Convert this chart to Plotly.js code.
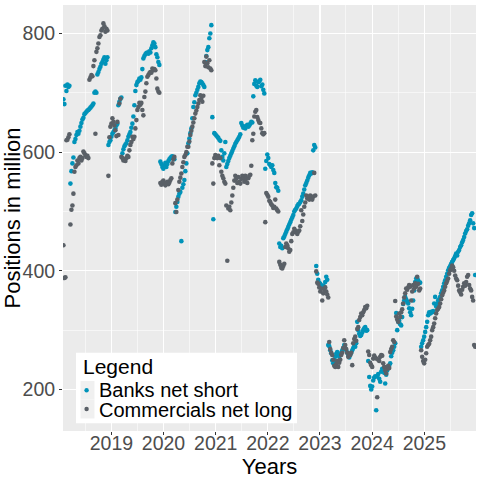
<!DOCTYPE html>
<html>
<head>
<meta charset="utf-8">
<script src="https://cdn.plot.ly/plotly-3.0.1.min.js"></script>
<style>
  html, body { margin: 0; padding: 0; background: #ffffff; }
  #chart { width: 480px; height: 480px; }
</style>
</head>
<body>
<div id="chart"></div>
<script>
// Weekly reports, first report date
const firstReport = '2018-01-30';

// Banks net short (million), one value per weekly report
const banksNetShort = [
  689, 681, 712, 703, 714, 710, 712, 547, 568, 581,
  591, 617, 622, 629, 634, 631, 636, 643, 649, 655,
  658, 664, 666, 668, 670, 671, 673, 675, 677, 679,
  682, 700, 702, 700, 731, 735, 740, 744, 749, 752,
  756, 760, 749, 755, 760, 612, 617, 620, 626, 631,
  634, 637, 640, 645, 648, 679, 685, 690, 692, 598,
  605, 610, 613, 615, 620, 626, 630, 634, 641, 648,
  660, 679, 703, 713, 718, 720, 724, 722, 726, 740,
  758, 762, 765, 767, 768, 766, 770, 768, 775, 780,
  785, 783, 777, 765, 760, 752, 747, 584, 580, 575,
  572, 578, 582, 575, 580, 585, 588, 590, 592, 593,
  590, 588, 499, 508, 516, 525, 530, 533, 450, 540,
  546, 553, 568, 581, 598, 615, 623, 632, 640, 657,
  676, 684, 696, 700, 705, 710, 716, 719, 718, 716,
  713, 710, 752, 762, 772, 777, 792, 800, 814, 659,
  487, 632, 630, 628, 626, 624, 621, 619, 603, 592,
  586, 598, 617, 575, 580, 585, 590, 594, 598, 602,
  606, 610, 614, 617, 620, 623, 626, 630, 649, 645,
  641, 643, 640, 644, 646, 643, 645, 648, 651, 650,
  694, 715, 721, 712, 710, 718, 720, 722, 711, 714,
  705, 699, 572, 585, 596, 590, 580, 578, 575, 578,
  570, 565, 548, 541, 540, 535, 446, 440, 442, 438,
  455, 458, 462, 466, 470, 474, 478, 482, 486, 490,
  494, 500, 503, 505, 509, 512, 513, 516, 519, 525,
  530, 537, 544, 548, 552, 557, 561, 565, 564, 566,
  603, 612, 608, 408, 395, 385, 380, 378, 375, 372,
  375, 373, 381, 390, 385, 275, 273, 266, 261, 249,
  244, 249, 255, 260, 263, 258, 255, 258, 262, 266,
  270, 275, 270, 266, 262, 258, 254, 258, 262, 266,
  270, 275, 272, 278, 314, 300, 294, 290, 292, 296,
  300, 303, 305, 299, 300, 248, 221, 206, 200, 205,
  215, 220, 222, 165, 222, 226, 218, 213, 230, 235,
  232, 228, 210, 225, 232, 238, 240, 244, 256, 262,
  266, 272, 278, 329, 300, 314, 316, 310, 308, 322,
  344, 350, 356, 352, 348, 345, 337, 330, 325, 336,
  350, 367, 381, 387, 388, 384, 379, 380, 272, 278,
  283, 289, 297, 305, 314, 325, 330, 328, 331, 330,
  332, 345, 356, 340, 345, 350, 352, 356, 362, 367,
  373, 379, 384, 390, 395, 401, 405, 408, 412, 415,
  418, 421, 425, 429, 426, 432, 435, 440, 443, 448,
  452, 457, 463, 467, 470, 476, 480, 485, 494, 497,
  480, 472, 393
];

// Commercials net long (million), one value per weekly report
const commercialsNetLong = [
  443, 388, 389, 620, 621, 625, 630, 478, 503, 510,
  530, 567, 575, 578, 586, 581, 590, 592, 586, 590,
  601, 598, 595, 592, 594, 590, 722, 726, 730, 728,
  745, 755, 631, 769, 775, 783, 794, 797, 805, 808,
  817, 812, 803, 808, 805, 560, 625, 643, 648, 657,
  651, 645, 637, 627, 651, 629, 682, 690, 592, 590,
  586, 588, 585, 590, 594, 592, 603, 612, 617, 626,
  622, 626, 640, 654, 671, 676, 683, 680, 683, 671,
  662, 693, 702, 716, 727, 730, 733, 735, 734, 741,
  738, 740, 738, 724, 707, 702, 700, 548, 545, 550,
  552, 548, 544, 547, 550, 546, 549, 553, 556, 581,
  588, 592, 514, 499, 520, 536, 550, 557, 564, 575,
  583, 592, 595, 600, 609, 609, 618, 629, 636, 643,
  650, 657, 665, 670, 676, 682, 688, 696, 690, 685,
  695, 752, 745, 761, 750, 743, 755, 741, 738, 581,
  547, 590, 595, 592, 590, 594, 578, 590, 567, 560,
  556, 550, 547, 510, 417, 505, 508, 502, 515, 527,
  540, 552, 560, 555, 548, 558, 550, 547, 555, 560,
  556, 550, 560, 555, 548, 556, 560, 562, 577, 620,
  631, 660, 668, 671, 659, 654, 650, 649, 640, 632,
  630, 632, 482, 531, 528, 525, 518, 516, 512, 510,
  506, 508, 520, 505, 502, 500, 415, 410, 405, 404,
  408, 412, 440, 446, 443, 438, 432, 435, 450, 462,
  465, 471, 468, 465, 462, 466, 468, 475, 502, 484,
  495, 508, 515, 527, 522, 525, 520, 527, 523, 520,
  525, 565, 527, 399, 380, 378, 372, 365, 370, 350,
  362, 368, 372, 365, 360, 355, 280, 268, 262, 258,
  250, 240, 238, 243, 248, 238, 245, 250, 258, 262,
  270, 283, 275, 268, 262, 255, 260, 258, 262, 241,
  278, 285, 289, 282, 302, 305, 317, 322, 328, 325,
  330, 334, 339, 337, 341, 264, 258, 245, 241, 238,
  252, 257, 254, 252, 187, 250, 248, 255, 258, 257,
  244, 238, 232, 227, 235, 240, 236, 263, 268, 272,
  283, 280, 349, 323, 318, 314, 328, 322, 330, 335,
  345, 355, 362, 370, 368, 372, 376, 373, 350, 365,
  376, 370, 379, 373, 390, 378, 367, 370, 266, 255,
  248, 244, 250, 261, 272, 275, 277, 283, 289, 300,
  305, 311, 320, 328, 334, 336, 339, 345, 352, 359,
  363, 367, 373, 379, 383, 387, 395, 401, 404, 409,
  406, 400, 392, 387, 384, 375, 367, 364, 360, 368,
  373, 379, 375, 381, 390, 393, 376, 370, 367, 356,
  350, 275, 272
];

const yearTicks = ['2019', '2020', '2021', '2022', '2023', '2024', '2025'];
const valueTicks = [200, 400, 600, 800];
const seriesNames = ['Banks net short', 'Commercials net long'];
const legendTitle = 'Legend';

// report dates, one per week
const weekDates = banksNetShort.map(function (_, i) {
  const d = new Date(Date.parse(firstReport + 'T00:00:00Z') + i * 7 * 86400000);
  return d.toISOString().slice(0, 10);
});

const FONT = 'Liberation Sans, Arial, Helvetica, sans-serif';
const COLORS = ['#0093B9', '#5A6067'];

const traces = [
  {
    type: 'scatter', mode: 'markers', name: seriesNames[0],
    x: weekDates, y: banksNetShort,
    marker: { color: COLORS[0], size: 4.6, line: { width: 0 } }
  },
  {
    type: 'scatter', mode: 'markers', name: seriesNames[1],
    x: weekDates, y: commercialsNetLong,
    marker: { color: COLORS[1], size: 4.6, line: { width: 0 } }
  }
];

// ---- legend drawn in the panel's paper space (plot area: 413 x 426 px) ----
const PW = 413, PH = 426, PL = 63, PT = 5;
function px(x) { return (x - PL) / PW; }
function py(y) { return (PT + PH - y) / PH; }

const legendShapes = [
  { type: 'rect', xref: 'paper', yref: 'paper', x0: px(76), x1: px(297), y0: py(423.3), y1: py(352.7),
    fillcolor: '#FFFFFF', line: { width: 0 }, layer: 'above' },
  { type: 'rect', xref: 'paper', yref: 'paper', x0: px(80.5), x1: px(94.5), y0: py(399.5), y1: py(381),
    fillcolor: '#F0F0F0', line: { width: 0 }, layer: 'above' },
  { type: 'rect', xref: 'paper', yref: 'paper', x0: px(80.5), x1: px(94.5), y0: py(418.5), y1: py(399.5),
    fillcolor: '#F0F0F0', line: { width: 0 }, layer: 'above' },
  { type: 'circle', xref: 'paper', yref: 'paper', x0: px(84.4), x1: px(88.8), y0: py(392.4), y1: py(388),
    fillcolor: COLORS[0], line: { width: 0 }, layer: 'above' },
  { type: 'circle', xref: 'paper', yref: 'paper', x0: px(84.4), x1: px(88.8), y0: py(411.2), y1: py(406.8),
    fillcolor: COLORS[1], line: { width: 0 }, layer: 'above' }
];

const legendTexts = [
  { text: legendTitle, x: px(81.5), y: py(366.5), size: 21 },
  { text: seriesNames[0], x: px(97.5), y: py(389.5), size: 20 },
  { text: seriesNames[1], x: px(97.5), y: py(409.5), size: 20 }
].map(function (t) {
  return {
    text: t.text, xref: 'paper', yref: 'paper', x: t.x, y: t.y,
    xanchor: 'left', yanchor: 'middle', showarrow: false, borderpad: 0,
    font: { family: FONT, size: t.size, color: '#000000' }
  };
});

const layout = {
  width: 480, height: 480,
  margin: { l: PL, r: 4, t: PT, b: 49, pad: 0 },
  paper_bgcolor: '#FFFFFF',
  plot_bgcolor: '#EBEBEB',
  font: { family: FONT, color: '#000000' },
  showlegend: false,
  xaxis: {
    type: 'date',
    range: ['2018-01-27', '2025-12-29'],
    tickmode: 'array',
    tickvals: yearTicks.map(function (y) { return y + '-01-01'; }),
    ticktext: yearTicks,
    tickfont: { family: FONT, size: 19.5, color: '#4D4D4D' },
    ticks: 'outside', ticklen: 3, tickwidth: 1, tickcolor: '#333333',
    ticklabelstandoff: -8,
    showgrid: true, gridcolor: '#FFFFFF', gridwidth: 1.1,
    minor: {
      tickmode: 'array',
      tickvals: ['2018-07-02', '2019-07-02', '2020-07-02', '2021-07-02', '2022-07-02', '2023-07-02', '2024-07-02', '2025-07-02'],
      showgrid: true, gridcolor: '#FFFFFF', gridwidth: 0.55, ticks: ''
    },
    showline: false, zeroline: false,
    title: { text: 'Years', font: { family: FONT, size: 22, color: '#000000' }, standoff: 2 }
  },
  yaxis: {
    range: [130, 848],
    tickmode: 'array',
    tickvals: valueTicks,
    ticktext: valueTicks.map(String),
    tickfont: { family: FONT, size: 19.5, color: '#4D4D4D' },
    ticks: 'outside', ticklen: 3, tickwidth: 1, tickcolor: '#333333',
    showgrid: true, gridcolor: '#FFFFFF', gridwidth: 1.1,
    minor: {
      tickmode: 'array', tickvals: [300, 500, 700],
      showgrid: true, gridcolor: '#FFFFFF', gridwidth: 0.55, ticks: ''
    },
    showline: false, zeroline: false,
    title: { text: 'Positions in million', font: { family: FONT, size: 22, color: '#000000' }, standoff: 6 }
  },
  shapes: legendShapes,
  annotations: legendTexts
};

Plotly.newPlot('chart', traces, layout, { staticPlot: true, displayModeBar: false });
</script>
</body>
</html>
